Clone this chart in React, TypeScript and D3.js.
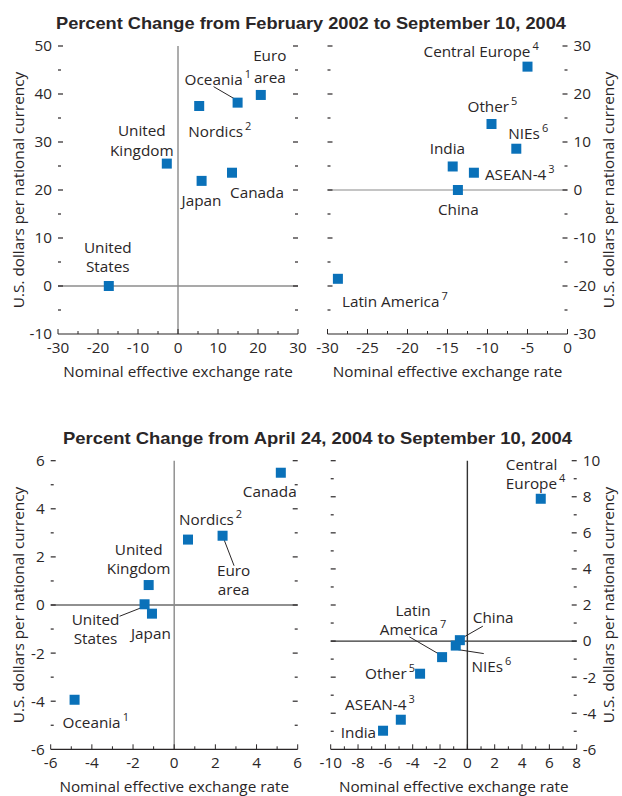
import * as d3 from "d3";

const BLUE = "#0a71b9";
const INK = "#2a2627";
const FONT = "'Open Sans', 'Liberation Sans', sans-serif";
const TITLE_FONT = "'Liberation Sans', Arial, sans-serif";

const titleTop = "Percent Change from February 2002 to September 10, 2004";
const titleBottom = "Percent Change from April 24, 2004 to September 10, 2004";
const xAxisTitle = "Nominal effective exchange rate";
const yAxisTitle = "U.S. dollars per national currency";

// footnote markers
const notes: Record<string, string> = {
  Oceania: "1", Nordics: "2", "ASEAN-4": "3", "Central Europe": "4",
  Other: "5", NIEs: "6", "Latin America": "7",
};

// Feb 2002 - Sep 2004, industrial countries
const p1Names = ["United States", "United Kingdom", "Japan", "Canada", "Nordics", "Oceania", "Euro area"];
const p1X = [-17.3, -2.8, 5.9, 13.5, 5.3, 14.9, 20.7];
const p1Y = [0, 25.5, 21.9, 23.6, 37.5, 38.2, 39.8];

// Feb 2002 - Sep 2004, emerging markets
const p2Names = ["Central Europe", "Other", "NIEs", "India", "ASEAN-4", "China", "Latin America"];
const p2X = [-5.0, -9.5, -6.4, -14.35, -11.7, -13.7, -28.7];
const p2Y = [25.7, 13.75, 8.6, 4.9, 3.6, 0, -18.5];

// Apr 2004 - Sep 2004, industrial countries
const p3Names = ["Canada", "Nordics", "Euro area", "United Kingdom", "United States", "Japan", "Oceania"];
const p3X = [5.18, 0.67, 2.35, -1.24, -1.44, -1.08, -4.84];
const p3Y = [5.5, 2.72, 2.88, 0.83, 0.03, -0.36, -3.94];

// Apr 2004 - Sep 2004, emerging markets
const p4Names = ["Central Europe", "China", "NIEs", "Latin America", "Other", "ASEAN-4", "India"];
const p4X = [5.37, -0.55, -0.85, -1.85, -3.46, -4.87, -6.17];
const p4Y = [7.89, 0.05, -0.25, -0.89, -1.81, -4.36, -4.97];

type Lbl = {
  lines?: string[];
  dx: number;
  dy: number;
  mid?: boolean;
  lh?: number;
  leader?: [number, number, number, number];
};

// label placement, offsets from marker centre (px)
const p1Labels: Lbl[] = [
  { lines: ["United", "States"], dx: -1, dy: -33, mid: true, lh: 19 },
  { lines: ["United", "Kingdom"], dx: -25, dy: -28, mid: true, lh: 20 },
  { dx: -20, dy: 25 },
  { dx: -2, dy: 25 },
  { dx: -11, dy: 31 },
  { dx: -53, dy: -18, leader: [-24, -16, 0, -2] },
  { lines: ["Euro", "area"], dx: 9, dy: -34, mid: true, lh: 22 },
];
const p2Labels: Lbl[] = [
  { dx: -104, dy: -10 },
  { dx: -24, dy: -12 },
  { dx: -8, dy: -10 },
  { dx: -23, dy: -12 },
  { dx: 11, dy: 7 },
  { dx: -20, dy: 25 },
  { dx: 4, dy: 28 },
];
const p3Labels: Lbl[] = [
  { dx: -38, dy: 24 },
  { dx: -9, dy: -15 },
  { lines: ["Euro", "area"], dx: 11, dy: 40.6, mid: true, lh: 18.8, leader: [0, 0, 11.5, 30] },
  { lines: ["United", "Kingdom"], dx: -10, dy: -30, mid: true, lh: 18.8 },
  { lines: ["United", "States"], dx: -49, dy: 21, mid: true, lh: 19, leader: [-25, 12, 3, 1] },
  { dx: -21, dy: 25.5 },
  { dx: -12, dy: 28.5 },
];
const p4Labels: Lbl[] = [
  { lines: ["Central", "Europe"], dx: -35, dy: -29, lh: 18.8 },
  { dx: 13, dy: -17, leader: [23, -14, 2, -2] },
  { dx: 15.7, dy: 26.4, leader: [2, 4, 28, 8] },
  { lines: ["Latin", "America"], dx: -29, dy: -41.3, mid: true, lh: 19.3, leader: [-32.7, -20.3, -3, -3] },
  { dx: -55, dy: 5.3 },
  { dx: -55.7, dy: -9.7 },
  { dx: -42.3, dy: 7 },
];

type PanelSpec = {
  names: string[];
  xs: number[];
  ys: number[];
  labels: Lbl[];
  xDomain: [number, number];
  yDomain: [number, number];
  left: number;
  right: number;
  top: number;
  bottom: number;
  xStep: number;
  yStep: number;
  side: "left" | "right";
  hColor: string;
  vColor: string | null;
};

const panels: PanelSpec[] = [
  {
    names: p1Names, xs: p1X, ys: p1Y, labels: p1Labels,
    xDomain: [-30, 30], yDomain: [-10, 50],
    left: 58, right: 298, top: 46, bottom: 334,
    xStep: 10, yStep: 10, side: "left", hColor: "#555", vColor: "#8a8a8a",
  },
  {
    names: p2Names, xs: p2X, ys: p2Y, labels: p2Labels,
    xDomain: [-30, 0], yDomain: [-30, 30],
    left: 327.5, right: 567.5, top: 46, bottom: 334,
    xStep: 5, yStep: 10, side: "right", hColor: "#8a8a8a", vColor: null,
  },
  {
    names: p3Names, xs: p3X, ys: p3Y, labels: p3Labels,
    xDomain: [-6, 6], yDomain: [-6, 6],
    left: 50.7, right: 297.7, top: 460.7, bottom: 749.3,
    xStep: 2, yStep: 2, side: "left", hColor: "#222", vColor: "#8a8a8a",
  },
  {
    names: p4Names, xs: p4X, ys: p4Y, labels: p4Labels,
    xDomain: [-10, 8], yDomain: [-6, 10],
    left: 330.7, right: 576.7, top: 460.7, bottom: 749.3,
    xStep: 2, yStep: 2, side: "right", hColor: "#333", vColor: "#333",
  },
];

function LabelText({ name, lbl, cx, cy }: { name: string; lbl: Lbl; cx: number; cy: number }) {
  const lines = lbl.lines ?? [name];
  const note = notes[name];
  const lh = lbl.lh ?? 19;
  const x0 = cx + lbl.dx;
  return (
    <text x={x0} y={cy + lbl.dy} textAnchor={lbl.mid ? "middle" : "start"}>
      {lines.map((ln, i) => (
        <tspan key={i} x={x0} dy={i === 0 ? 0 : lh}>
          {ln}
          {note && i === lines.length - 1 ? (
            <tspan dx={2} dy={-7} fontSize={11}>{note}</tspan>
          ) : null}
        </tspan>
      ))}
    </text>
  );
}

function Panel({ p }: { p: PanelSpec }) {
  const x = d3.scaleLinear().domain(p.xDomain).range([p.left, p.right]);
  const y = d3.scaleLinear().domain(p.yDomain).range([p.bottom, p.top]);
  const xMajor = d3.range(p.xDomain[0], p.xDomain[1] + 1e-9, p.xStep);
  const xMinor = d3.range(p.xDomain[0] + p.xStep / 2, p.xDomain[1], p.xStep);
  const yMajor = d3.range(p.yDomain[0], p.yDomain[1] + 1e-9, p.yStep);
  const yMinor = d3.range(p.yDomain[0] + p.yStep / 2, p.yDomain[1], p.yStep);
  const s = 10;
  const midX = (p.left + p.right) / 2;
  const midY = (p.top + p.bottom) / 2;
  const titleX = p.side === "left" ? 24 : 614;

  return (
    <g>
      {/* zero reference lines */}
      <line x1={p.left} x2={p.right} y1={y(0)} y2={y(0)} stroke={p.hColor} strokeWidth={1.2} />
      {p.vColor && (
        <line x1={x(0)} x2={x(0)} y1={p.top} y2={p.bottom} stroke={p.vColor} strokeWidth={1.4} />
      )}

      {/* bottom axis */}
      <line x1={p.left} x2={p.right} y1={p.bottom} y2={p.bottom} stroke={INK} strokeWidth={1.2} />
      {xMajor.map((v) => (
        <line key={"xm" + v} x1={x(v)} x2={x(v)} y1={p.bottom} y2={p.bottom - 5} stroke={INK} />
      ))}
      {xMinor.map((v) => (
        <line key={"xn" + v} x1={x(v)} x2={x(v)} y1={p.bottom} y2={p.bottom - 3} stroke={INK} />
      ))}
      {xMajor.map((v) => (
        <text key={"xl" + v} x={x(v)} y={p.bottom + 19} textAnchor="middle">{String(v)}</text>
      ))}

      {/* side ticks, both edges, pointing inward */}
      {yMajor.filter((v) => v !== p.yDomain[0]).map((v) => (
        <g key={"ym" + v}>
          <line x1={p.left} x2={p.left + 5} y1={y(v)} y2={y(v)} stroke={INK} strokeWidth={1.2} />
          <line x1={p.right - 5} x2={p.right} y1={y(v)} y2={y(v)} stroke={INK} strokeWidth={1.2} />
        </g>
      ))}
      {yMinor.map((v) => (
        <g key={"yn" + v}>
          <line x1={p.left} x2={p.left + 3} y1={y(v)} y2={y(v)} stroke={INK} strokeWidth={1.2} />
          <line x1={p.right - 3} x2={p.right} y1={y(v)} y2={y(v)} stroke={INK} strokeWidth={1.2} />
        </g>
      ))}
      {yMajor.map((v) => (
        <text
          key={"yl" + v}
          x={p.side === "left" ? p.left - 6 : p.right + 6}
          y={y(v) + 5.4}
          textAnchor={p.side === "left" ? "end" : "start"}
        >
          {String(v)}
        </text>
      ))}

      <text x={midX} y={p.bottom + 43} textAnchor="middle">{xAxisTitle}</text>
      <text
        transform={`translate(${titleX},${midY}) rotate(-90)`}
        textAnchor="middle"
      >
        {yAxisTitle}
      </text>

      {/* leader lines */}
      {p.names.map((n, i) => {
        const l = p.labels[i];
        if (!l.leader) return null;
        const cx = x(p.xs[i]);
        const cy = y(p.ys[i]);
        return (
          <line
            key={"ld" + n}
            x1={cx + l.leader[0]} y1={cy + l.leader[1]}
            x2={cx + l.leader[2]} y2={cy + l.leader[3]}
            stroke={INK} strokeWidth={1}
          />
        );
      })}

      {/* markers */}
      {p.names.map((n, i) => (
        <rect
          key={"pt" + n}
          x={x(p.xs[i]) - s / 2}
          y={y(p.ys[i]) - s / 2}
          width={s}
          height={s}
          fill={BLUE}
        />
      ))}

      {p.names.map((n, i) => (
        <LabelText key={"lb" + n} name={n} lbl={p.labels[i]} cx={x(p.xs[i])} cy={y(p.ys[i])} />
      ))}
    </g>
  );
}

export default function App() {
  return (
    <svg
      width={622}
      height={796}
      style={{ position: "absolute", left: 0, top: 0, background: "#fff" }}
      fontFamily={FONT}
      fontSize={15.3}
      fill={INK}
    >
      <text
        x={56}
        y={29.3}
        fontFamily={TITLE_FONT}
        fontWeight="bold"
        fontSize={17}
        textLength={510}
        lengthAdjust="spacingAndGlyphs"
      >
        {titleTop}
      </text>
      <text
        x={63}
        y={444}
        fontFamily={TITLE_FONT}
        fontWeight="bold"
        fontSize={17}
        textLength={509}
        lengthAdjust="spacingAndGlyphs"
      >
        {titleBottom}
      </text>
      {panels.map((p, i) => (
        <Panel key={i} p={p} />
      ))}
    </svg>
  );
}
